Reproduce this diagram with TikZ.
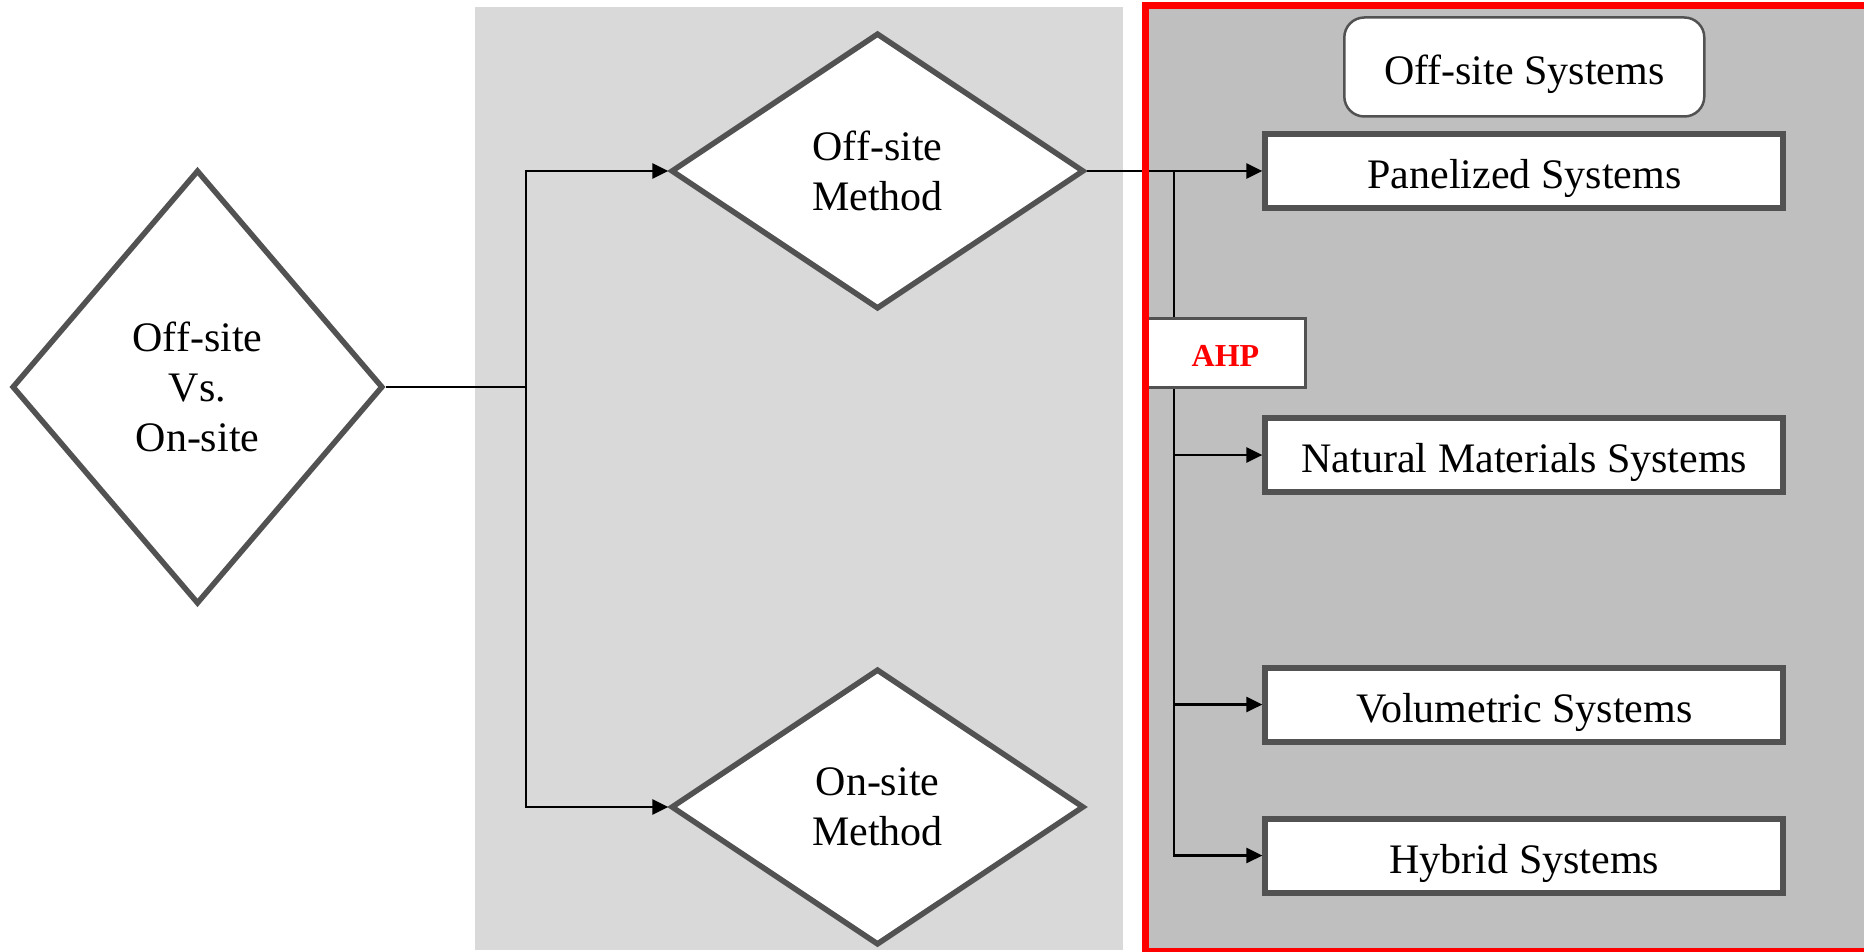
\documentclass[tikz,border=0pt]{standalone}
\usepackage{fontspec}
\setmainfont{Liberation Serif}
\usetikzlibrary{shapes.geometric,arrows.meta}
\definecolor{edgegray}{HTML}{525252}
\definecolor{lightpanel}{HTML}{D9D9D9}
\definecolor{darkpanel}{HTML}{BFBFBF}
\definecolor{ahpred}{HTML}{FF0000}
\begin{document}
\begin{tikzpicture}[x=1pt,y=-1pt,
  dec/.style={diamond, draw=edgegray, line width=5.5pt, fill=white, inner sep=0pt,
    align=center, font=\fontsize{42}{50}\selectfont},
  sysbox/.style={rectangle, draw=edgegray, line width=6pt, fill=white,
    minimum width=518pt, minimum height=74pt, inner sep=0pt,
    text height=35pt, text depth=0pt, font=\fontsize{42}{50}\selectfont},
  titlebox/.style={rectangle, rounded corners=20pt, draw=edgegray, line width=2.5pt,
    fill=white, minimum width=360pt, minimum height=99pt, inner sep=0pt,
    text height=35pt, text depth=0pt, font=\fontsize{42}{50}\selectfont},
  ahpbox/.style={rectangle, draw=edgegray, line width=3pt, fill=white,
    minimum width=159pt, minimum height=69pt, inner sep=0pt,
    text height=26pt, text depth=0pt, text=ahpred,
    font=\fontsize{32}{38}\selectfont\bfseries},
  conn/.style={line width=2.8pt, black},
  arr/.style={conn, -{Triangle[length=16pt,width=15pt]}},
  frame/.style={draw=ahpred, line width=7pt},
]
\useasboundingbox (0,0) rectangle (1864,952);
\fill[white] (0,0) rectangle (1864,952);
% panels
\fill[lightpanel] (475,6.7) rectangle (1122.5,950);
\fill[darkpanel] (1145.5,5.8) rectangle (1870,951.8);

% decision diamonds
\node[dec, minimum width=371pt, minimum height=434pt] (d0) at (197.5,387) {Off-site\\Vs.\\On-site};
\node[dec, minimum width=413pt, minimum height=276pt] (doff) at (877.5,171) {Off-site\\Method};
\node[dec, minimum width=413pt, minimum height=276pt] (don) at (877.5,807) {On-site\\Method};

% system boxes
\node[titlebox] (title) at (1524.3,67) {Off-site Systems};
\node[sysbox] (pan) at (1524.4,171) {Panelized Systems};
\node[sysbox] (nat) at (1524.4,455) {Natural Materials Systems};
\node[sysbox] (vol) at (1524.4,704.5) {Volumetric Systems};
\node[sysbox] (hyb) at (1524.4,855.5) {Hybrid Systems};

% connectors left
\coordinate (jl) at (526,387);
\draw[conn] (d0.east) -- (jl);
\draw[arr] (jl) |- (doff.west);
\draw[arr] (jl) |- (don.west);

% connectors right
\coordinate (jr) at (1174,171);
\draw[conn] (doff.east) -- (jr);
\draw[arr] (jr) -- (pan.west);
\draw[arr] (jr) |- (nat.west);
\draw[arr] (jr) |- (vol.west);
\draw[arr] (jr) |- (hyb.west);

% AHP label box
\node[ahpbox] (ahp) at (1225.5,353) {AHP};

% red frame on top
\draw[frame] (1145.5,5.8) rectangle (1870,951.8);
\end{tikzpicture}
\end{document}
